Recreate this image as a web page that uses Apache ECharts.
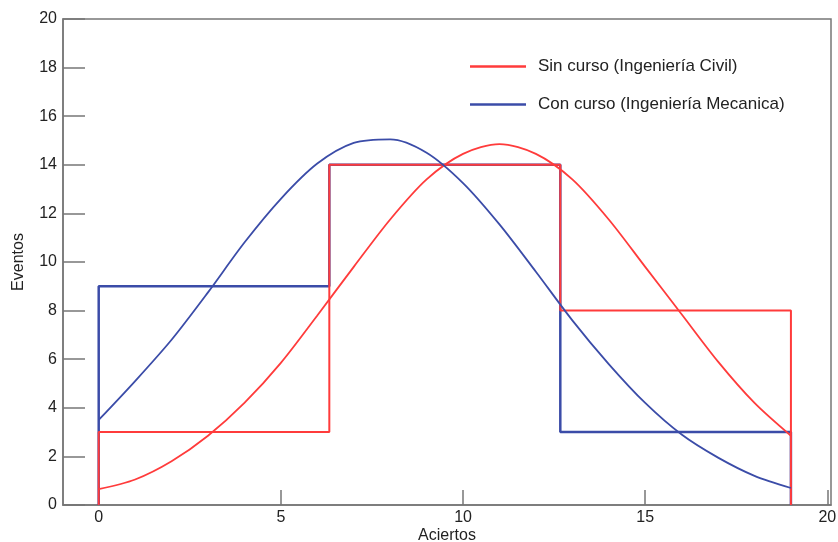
<!DOCTYPE html>
<html>
<head>
<meta charset="utf-8">
<script src="https://cdn.jsdelivr.net/npm/echarts@6/dist/echarts.min.js"></script>
<style>
	html, body { margin: 0; padding: 0; background: #fff; }
	#main { width: 838px; height: 542px; }
</style>
</head>
<body>
<div id="main"></div>
<script>
// histograma: bordes de los bins y cuentas
var binEdges = [0, 6.33, 12.67, 19];
var civilCounts = [3, 14, 8];
var mecanicaCounts = [9, 14, 3];

// curvas de ajuste
var fitX = [0, 1, 2, 3, 4, 5, 6, 7, 8, 9, 10, 11, 12, 13, 14, 15, 16, 17, 18, 19];
var civilFit = [0.65, 1.05, 1.8, 2.85, 4.2, 5.85, 7.8, 9.8, 11.75, 13.4, 14.45, 14.85, 14.45, 13.4, 11.75, 9.8, 7.85, 5.9, 4.2, 2.85];
var mecanicaFit = [3.5, 5.1, 6.8, 8.75, 10.8, 12.6, 14.05, 14.9, 15.05, 14.5, 13.25, 11.55, 9.6, 7.6, 5.8, 4.2, 2.9, 1.95, 1.2, 0.7];

var xTicks = [0, 5, 10, 15, 20];

var nameCivil = 'Sin curso (Ingeniería Civil)';
var nameMecanica = 'Con curso (Ingeniería Mecanica)';

function stepPoints(edges, counts) {
	var pts = [[edges[0], 0]];
	for (var i = 0; i < counts.length; i++) {
		pts.push([edges[i], counts[i]]);
		pts.push([edges[i + 1], counts[i]]);
	}
	pts.push([edges[edges.length - 1], 0]);
	return pts;
}

function pairs(xs, ys) {
	return xs.map(function(x, i) { return [x, ys[i]]; });
}

var red = '#ff3b3b';
var blue = '#3b4ca8';
var font = 'Liberation Sans';

var option = {
	animation : false,
	grid : {
		left : 63,
		right : 7,
		top : 19,
		bottom : 37,
		outerBoundsMode : 'none',
		containLabel : false,
		show : true,
		borderColor : '#777',
		borderWidth : 1.5
	},
	legend : {
		orient : 'vertical',
		left : 465,
		top : 53,
		itemWidth : 56,
		itemHeight : 2.5,
		itemGap : 21,
		icon : 'rect',
		data : [ nameCivil, nameMecanica ],
		textStyle : {
			fontFamily : font,
			fontSize : 17,
			color : '#222',
			padding : [ 0, 0, 0, 7 ]
		}
	},
	xAxis : {
		type : 'value',
		min : -0.98,
		max : 20.1,
		name : 'Aciertos',
		nameLocation : 'middle',
		nameGap : 23,
		nameMoveOverlap : false,
		nameTextStyle : { fontFamily : font, fontSize : 16, color : '#222' },
		splitLine : { show : false },
		axisLine : { onZero : false, lineStyle : { color : '#777', width : 1.5 } },
		axisTick : {
			inside : true,
			length : 15,
			lineStyle : { color : '#777', width : 1.5 },
			customValues : xTicks
		},
		axisLabel : {
			customValues : xTicks,
			margin : 5,
			fontFamily : font,
			fontSize : 16,
			color : '#222'
		}
	},
	yAxis : {
		type : 'value',
		min : 0,
		max : 20,
		interval : 2,
		name : 'Eventos',
		nameLocation : 'middle',
		nameGap : 36,
		nameMoveOverlap : false,
		nameTextStyle : { fontFamily : font, fontSize : 16, color : '#222' },
		splitLine : { show : false },
		axisLine : { show : true, onZero : false, lineStyle : { color : '#777', width : 1.5 } },
		axisTick : {
			inside : true,
			length : 22,
			lineStyle : { color : '#777', width : 1.5 }
		},
		axisLabel : {
			margin : 6,
			fontFamily : font,
			fontSize : 16,
			color : '#222'
		}
	},
	series : [ {
		name : nameMecanica,
		type : 'line',
		data : stepPoints(binEdges, mecanicaCounts),
		showSymbol : false,
		lineStyle : { color : blue, width : 2.5 },
		itemStyle : { color : blue },
		z : 2
	}, {
		name : nameCivil,
		type : 'line',
		data : stepPoints(binEdges, civilCounts),
		showSymbol : false,
		lineStyle : { color : red, width : 2 },
		itemStyle : { color : red },
		z : 3
	}, {
		name : nameCivil,
		type : 'line',
		smooth : 0.3,
		data : pairs(fitX, civilFit),
		showSymbol : false,
		lineStyle : { color : red, width : 1.8 },
		itemStyle : { color : red },
		z : 4
	}, {
		name : nameMecanica,
		type : 'line',
		smooth : 0.3,
		data : pairs(fitX, mecanicaFit),
		showSymbol : false,
		lineStyle : { color : blue, width : 1.8 },
		itemStyle : { color : blue },
		z : 4
	} ]
};

var myChart = echarts.init(document.getElementById('main'));
myChart.setOption(option, true);
</script>
</body>
</html>
